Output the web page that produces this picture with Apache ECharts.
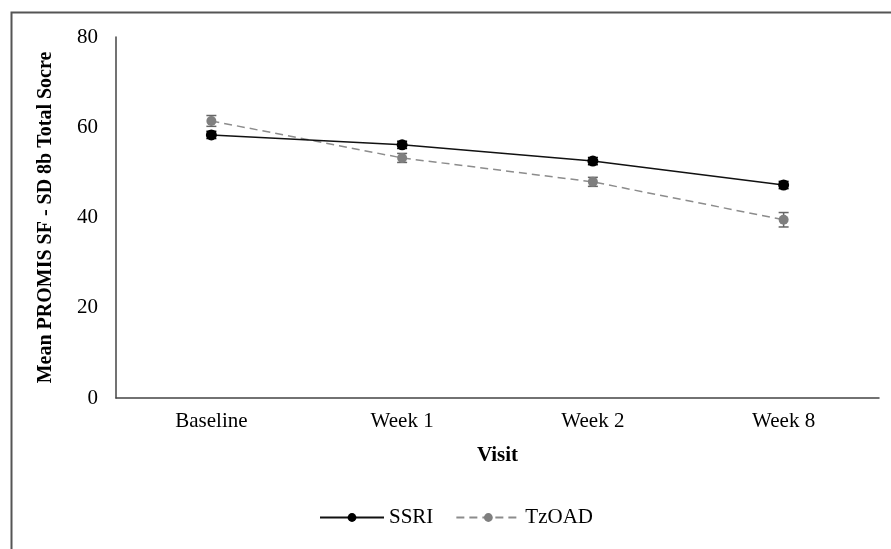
<!DOCTYPE html>
<html>
<head>
<meta charset="utf-8">
<script src="https://cdn.jsdelivr.net/npm/echarts@6/dist/echarts.min.js"></script>
<style>html,body{margin:0;padding:0;background:#fff;}#c{width:891px;height:549px;}</style>
</head>
<body>
<div id="c"></div>
<script>
var categories = ['Baseline', 'Week 1', 'Week 2', 'Week 8'];
var ssri = [58.3, 56.1, 52.5, 47.2];
var ssriErr = [0.8, 0.8, 0.8, 0.8];
var tzoad = [61.4, 53.2, 47.9, 39.5];
var tzoadErr = [1.2, 1.0, 1.0, 1.6];
var yTicks = [0, 20, 40, 60, 80];

var FONT = '"Liberation Serif", "Times New Roman", serif';

function errSeries(name, vals, errs, color) {
  var data = vals.map(function (v, i) { return [i, v - errs[i], v + errs[i]]; });
  return {
    type: 'custom',
    name: name + ' err',
    z: 1,
    silent: true,
    data: data,
    renderItem: function (params, api) {
      var x = api.value(0);
      var lo = api.coord([x, api.value(1)]);
      var hi = api.coord([x, api.value(2)]);
      var w = 5;
      var st = { stroke: color, lineWidth: 1.5 };
      return {
        type: 'group',
        children: [
          { type: 'line', shape: { x1: lo[0], y1: lo[1], x2: hi[0], y2: hi[1] }, style: st },
          { type: 'line', shape: { x1: lo[0] - w, y1: lo[1], x2: lo[0] + w, y2: lo[1] }, style: st },
          { type: 'line', shape: { x1: hi[0] - w, y1: hi[1], x2: hi[0] + w, y2: hi[1] }, style: st }
        ]
      };
    }
  };
}

var chart = echarts.init(document.getElementById('c'));
chart.setOption({
  backgroundColor: '#fff',
  animation: false,
  graphic: [{
    type: 'rect', left: 9, top: 10, shape: { width: 1000, height: 1000 },
    style: { fill: 'none', stroke: '#555', lineWidth: 2 }, silent: true, z: -10
  }],
  grid: { left: 116, right: 12, top: 37, bottom: 151, containLabel: false },
  legend: {
    data: ['SSRI', 'TzOAD'],
    top: 502,
    left: 314,
    itemWidth: 64,
    itemHeight: 11,
    itemGap: 22,
    textStyle: { fontFamily: FONT, fontSize: 21, color: '#000' }
  },
  xAxis: {
    type: 'category',
    data: categories,
    boundaryGap: true,
    name: 'Visit',
    nameLocation: 'middle',
    nameGap: 47,
    nameTextStyle: { fontFamily: FONT, fontSize: 21, fontWeight: 'bold', color: '#000' },
    axisLine: { lineStyle: { color: '#444', width: 1.5 } },
    axisTick: { show: false },
    axisLabel: { fontFamily: FONT, fontSize: 21, color: '#000', margin: 13 },
    splitLine: { show: false }
  },
  yAxis: {
    type: 'value',
    min: 0, max: 80, interval: 20,
    name: 'Mean PROMIS SF - SD 8b Total Socre',
    nameLocation: 'middle',
    nameGap: 60,
    nameTextStyle: { fontFamily: FONT, fontSize: 20, fontWeight: 'bold', color: '#000' },
    axisLine: { show: true, lineStyle: { color: '#444', width: 1.5 } },
    axisTick: { show: false },
    axisLabel: {
      fontFamily: FONT, fontSize: 21, color: '#000', margin: 18,
      formatter: function (v) { return yTicks.indexOf(v) >= 0 ? String(v) : ''; }
    },
    splitLine: { show: false }
  },
  series: [
    errSeries('TzOAD', tzoad, tzoadErr, '#666'),
    errSeries('SSRI', ssri, ssriErr, '#000'),
    {
      name: 'TzOAD', type: 'line', data: tzoad, z: 3,
      symbol: 'circle', symbolSize: 10,
      itemStyle: { color: '#7f7f7f' },
      lineStyle: { color: '#8c8c8c', width: 1.5, type: [8, 5] }
    },
    {
      name: 'SSRI', type: 'line', data: ssri, z: 4,
      symbol: 'circle', symbolSize: 11,
      itemStyle: { color: '#000' },
      lineStyle: { color: '#111', width: 1.5, type: 'solid' }
    }
  ]
});
</script>
</body>
</html>
